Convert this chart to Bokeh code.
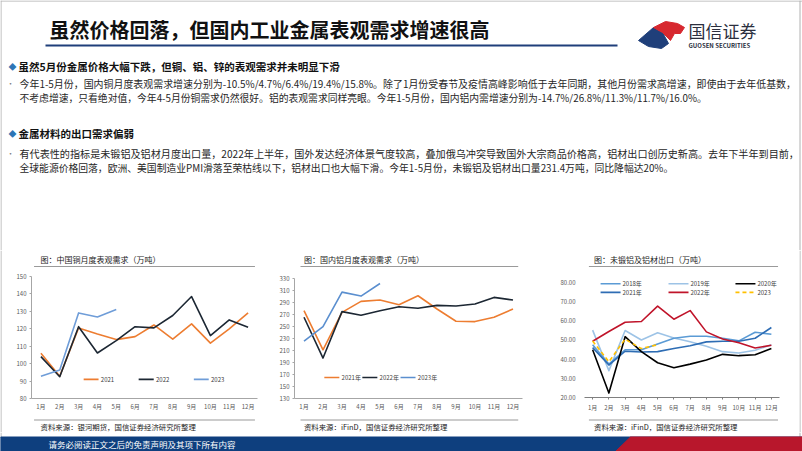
from bokeh.plotting import figure
from bokeh.layouts import column, row
from bokeh.models import Range1d, FactorRange, FixedTicker, NumeralTickFormatter
from bokeh.core.properties import value
from bokeh.embed import file_html
from bokeh.resources import INLINE

FONT = "Noto Sans CJK SC"

# ---------------- data ----------------
months = ["1月", "2月", "3月", "4月", "5月", "6月", "7月", "8月", "9月", "10月", "11月", "12月"]

# 中国铜月度表观需求（万吨）
cu_2021 = [105.9, 92.8, 120.5, 117.0, 113.8, 115.5, 122.2, 114.1, 122.8, 111.8, 119.9, 129.1]
cu_2022 = [104.0, 92.5, 121.2, 106.1, 113.2, 121.2, 120.5, 127.6, 138.5, 116.1, 125.1, 120.9]
cu_2023 = [92.8, 96.3, 129.1, 126.8, 131.0]
cu_ticks = [80, 90, 100, 110, 120, 130, 140, 150]

# 国内铝月度表观需求（万吨）
al_2021 = [276.4, 211.2, 273.6, 291.9, 294.1, 286.4, 301.3, 279.2, 258.7, 258.2, 265.4, 279.2]
al_2022 = [265.4, 197.4, 274.8, 268.7, 276.4, 283.0, 280.3, 285.2, 284.1, 287.5, 298.5, 294.1]
al_2023 = [225.6, 249.9, 307.3, 300.7, 321.7]
al_ticks = [130, 150, 170, 190, 210, 230, 250, 270, 290, 310, 330]

# 未锻铝及铝材出口（万吨）
ex_2018 = [47.5, 37.4, 44.9, 44.9, 47.9, 50.9, 51.9, 51.9, 50.9, 49.5, 54.0, 53.0]
ex_2019 = [55.1, 34.0, 54.9, 50.0, 53.7, 51.0, 49.1, 46.7, 43.9, 43.2, 44.6, 47.5]
ex_2020 = [44.9, 22.3, 51.7, 43.9, 38.1, 35.5, 37.4, 39.5, 42.5, 41.8, 42.3, 45.5]
ex_2021 = [46.0, 36.9, 44.1, 43.7, 43.9, 45.5, 47.0, 49.0, 49.3, 49.3, 50.9, 56.5]
ex_2022 = [49.3, 54.4, 59.2, 59.6, 67.6, 60.8, 65.3, 54.2, 50.5, 48.5, 45.8, 47.2]
ex_2023 = [49.4, 38.6, 50.4, 45.5, 47.5]
ex_ticks = [20, 30, 40, 50, 60, 70, 80]

title_text = "虽然价格回落，但国内工业金属表观需求增速很高"
heading1 = "虽然5月份金属价格大幅下跌，但铜、铝、锌的表观需求并未明显下滑"
para1 = [
    "今年1-5月份，国内铜月度表观需求增速分别为-10.5%/4.7%/6.4%/19.4%/15.8%。除了1月份受春节及疫情高峰影响低于去年同期，其他月份需求高增速，即使由于去年低基数，",
    "不考虑增速，只看绝对值，今年4-5月份铜需求仍然很好。铝的表观需求同样亮眼。今年1-5月份，国内铝内需增速分别为-14.7%/26.8%/11.3%/11.7%/16.0%。",
]
heading2 = "金属材料的出口需求偏弱"
para2 = [
    "有代表性的指标是未锻铝及铝材月度出口量，2022年上半年，国外发达经济体景气度较高，叠加俄乌冲突导致国外大宗商品价格高，铝材出口创历史新高。去年下半年到目前，",
    "全球能源价格回落，欧洲、美国制造业PMI滑落至荣枯线以下，铝材出口也大幅下滑。今年1-5月份，未锻铝及铝材出口量231.4万吨，同比降幅达20%。",
]
chart_titles = ["图：中国铜月度表观需求（万吨）", "图：国内铝月度表观需求（万吨）", "图：未锻铝及铝材出口（万吨）"]
chart_sources = ["资料来源：银河期货，国信证券经济研究所整理", "资料来源：iFinD，国信证券经济研究所整理",
                 "资料来源：iFinD，国信证券经济研究所整理"]
footer_text = "请务必阅读正文之后的免责声明及其项下所有内容"

BORDER = "#b0b0b0"


# ---------------- helpers ----------------
def blank(x0, x1, y0, y1):
    p = figure(width=int(round(x1 - x0)), height=int(round(y1 - y0)), x_range=Range1d(x0, x1),
               y_range=Range1d(y1, y0), output_backend="svg", toolbar_location=None, min_border=0,
               x_axis_location=None, y_axis_location=None)
    p.xgrid.visible = False
    p.ygrid.visible = False
    p.outline_line_color = None
    p.background_fill_color = "white"
    p.border_fill_color = "white"
    return p


def txt(p, x, y, s, size, color="#262626", bold=False, align="left"):
    p.text(x=[x], y=[y], text=[s], text_font=value(FONT), text_font_size=f"{size}px",
           text_color=color, text_font_style="bold" if bold else "normal",
           text_align=align, text_baseline="middle")


def hline(p, x0, x1, y, color="#a6a6a6", w=1.0):
    p.segment(x0=[x0], y0=[y], x1=[x1], y1=[y], line_color=color, line_width=w)


def vline(p, x, y0, y1, color=BORDER, w=1.0):
    p.segment(x0=[x], y0=[y0], x1=[x], y1=[y1], line_color=color, line_width=w)


# ---------------- header (page coordinates) ----------------
W = 802
head = blank(0, 802, 0, 250)
hline(head, 0, 802, 0.5, BORDER)
vline(head, 0.5, 0, 250)
vline(head, 799.5, 0, 250)
txt(head, 49, 29, title_text, 20, "#111111", bold=True)
hline(head, 45, 617, 45, "#1F3F7A", 2)
head.patch(x=[638, 653, 662, 668, 661, 648], y=[40, 27, 32, 43, 48, 46], color="#1F3F7A")
head.patch(x=[653, 665, 677, 684, 680, 674, 670, 662], y=[27, 21, 23, 27, 33, 33, 40, 32], color="#D7282F")
txt(head, 688, 30, "国信证券", 17, "#2B2F3E")
txt(head, 688, 44.5, "GUOSEN SECURITIES", 6, "#2B2F3E", bold=True)

txt(head, 12, 65.5, "◆", 8, "#2E75B6", align="center")
txt(head, 18, 65.5, heading1, 10.5, "#111111", bold=True)
txt(head, 10, 83, "•", 8, "#7F7F7F", align="center")
txt(head, 19, 83, para1[0], 9.95)
txt(head, 19, 97.5, para1[1], 9.8)

txt(head, 12, 133, "◆", 8, "#2E75B6", align="center")
txt(head, 18, 133, heading2, 10.5, "#111111", bold=True)
txt(head, 10, 153, "•", 8, "#7F7F7F", align="center")
txt(head, 19, 153, para2[0], 10.1)
txt(head, 19, 167.5, para2[1], 9.8)


# ---------------- charts ----------------
PLOT_H = 145


def make_chart(width, left, right, top, bottom, yr, ticks, fmt=None, yaxis_line=True, xticks=0):
    p = figure(width=width, height=PLOT_H, x_range=FactorRange(factors=months), y_range=Range1d(*yr),
               output_backend="svg", toolbar_location=None,
               min_border_left=left, min_border_right=right, min_border_top=top, min_border_bottom=bottom)
    p.outline_line_color = None
    p.xgrid.visible = False
    p.ygrid.visible = False
    for ax in (p.xaxis[0], p.yaxis[0]):
        ax.major_label_text_font = FONT
        ax.major_label_text_font_size = "6px"
        ax.major_label_text_color = "#595959"
        ax.axis_line_color = "#a6a6a6"
        ax.major_tick_line_color = "#a6a6a6"
        ax.major_tick_in = 0
        ax.minor_tick_line_color = None
        ax.major_label_standoff = 3
    p.yaxis.ticker = FixedTicker(ticks=ticks, minor_ticks=[])
    p.yaxis.major_tick_out = 2
    p.xaxis.major_tick_out = xticks
    if fmt:
        p.yaxis.formatter = NumeralTickFormatter(format=fmt)
    if not yaxis_line:
        p.yaxis.axis_line_color = None
        p.yaxis.major_tick_line_color = None
        p.yaxis.major_label_standoff = 7
    return p


def legend_item(p, x0, x1, y, label, color, dash="solid", size=6):
    p.segment(x0=[x0], y0=[y], x1=[x1], y1=[y], line_color=color, line_width=1.6, line_dash=dash)
    txt(p, x1 + 0.12, y, label, size, "#404040")


LW = 1.6

# chart 1: copper  (column spans x 2..268)
c1 = make_chart(266, 29, 11, 6, 17, (80, 150), cu_ticks)
c1.line(x=months, y=cu_2021, line_color="#ED7D31", line_width=LW, line_join="round")
c1.line(x=months, y=cu_2022, line_color="#1C2733", line_width=LW, line_join="round")
c1.line(x=months[:5], y=cu_2023, line_color="#6F9DD8", line_width=LW, line_join="round")
legend_item(c1, 2.77, 3.56, 91, "2021", "#ED7D31")
legend_item(c1, 5.69, 6.49, 91, "2022", "#1C2733")
legend_item(c1, 8.62, 9.41, 91, "2023", "#6F9DD8")

# chart 2: aluminium  (column spans x 268..534)
c2 = make_chart(266, 26, 12, 8, 17, (130, 330), al_ticks)
c2.line(x=months, y=al_2021, line_color="#ED7D31", line_width=LW, line_join="round")
c2.line(x=months, y=al_2022, line_color="#1C2733", line_width=LW, line_join="round")
c2.line(x=months[:5], y=al_2023, line_color="#5B8FCF", line_width=LW, line_join="round")
legend_item(c2, 1.57, 2.36, 165, "2021年", "#ED7D31")
legend_item(c2, 3.57, 4.36, 165, "2022年", "#1C2733")
legend_item(c2, 5.58, 6.37, 165, "2023年", "#5B8FCF")

# chart 3: exports  (column spans x 534..799)
c3 = make_chart(265, 50, 20, 9, 18, (20, 81.5), ex_ticks, fmt="0.00", yaxis_line=False, xticks=2)
c3.xaxis.axis_line_color = "#7f7f7f"
c3.xaxis.major_tick_line_color = "#7f7f7f"
ex_series = [
    (ex_2019, "#9DC3E6"),
    (ex_2018, "#5B9BD5"),
    (ex_2021, "#2E6DB4"),
    (ex_2020, "#000000"),
    (ex_2022, "#C0142A"),
]
for ys, col in ex_series:
    c3.line(x=months[:len(ys)], y=ys, line_color=col, line_width=LW, line_join="round")
c3.line(x=months[:5], y=ex_2023, line_color="#FFC000", line_width=LW, line_dash="4 3")
legend_item(c3, 0.99, 2.22, 79.3, "2018年", "#5B9BD5")
legend_item(c3, 5.17, 6.40, 79.3, "2019年", "#9DC3E6")
legend_item(c3, 9.29, 10.52, 79.3, "2020年", "#000000")
legend_item(c3, 0.99, 2.22, 74.8, "2021年", "#2E6DB4")
legend_item(c3, 5.17, 6.40, 74.8, "2022年", "#C0142A")
legend_item(c3, 9.29, 10.52, 74.8, "2023", "#FFC000", dash="4 3")


def chart_column(x0, x1, line_x0, line_x1, text_x, title, source, chart):
    t = blank(x0, x1, 250, 270)
    txt(t, text_x, 259, title, 8, "#1a1a1a")
    hline(t, line_x0, line_x1, 266, "#9a9a9a", 1.2)
    s = blank(x0, x1, 415, 432)
    hline(s, line_x0, line_x1, 419.5, "#9a9a9a", 1.2)
    txt(s, text_x, 426, source, 7.4, "#1a1a1a")
    return column(t, chart, s, spacing=0)


def edge(x0, x1, xline):
    e = blank(x0, x1, 250, 432)
    vline(e, xline, 250, 432)
    return e


col1 = chart_column(2, 268, 5, 265, 12.7, chart_titles[0], chart_sources[0], c1)
col2 = chart_column(268, 534, 275, 529, 279, chart_titles[1], chart_sources[1], c2)
col3 = chart_column(534, 799, 540, 797, 547, chart_titles[2], chart_sources[2], c3)
left_edge = edge(0, 2, 0.5)
right_edge = edge(799, 802, 799.5)

# ---------------- footer ----------------
foot = blank(0, 802, 432, 451)
vline(foot, 0.5, 432, 437)
vline(foot, 799.5, 432, 437)
foot.quad(left=[0], right=[802], top=[436.5], bottom=[451], color="#0E3F7E")
foot.patch(x=[630, 802, 802, 615], y=[436.5, 436.5, 451, 451], color="#B8172C")
txt(foot, 48, 443.5, footer_text, 8.5, "white")

layout = column(head, row(left_edge, col1, col2, col3, right_edge, spacing=0), foot, spacing=0)

open("out.html", "w").write(file_html(layout, INLINE))
